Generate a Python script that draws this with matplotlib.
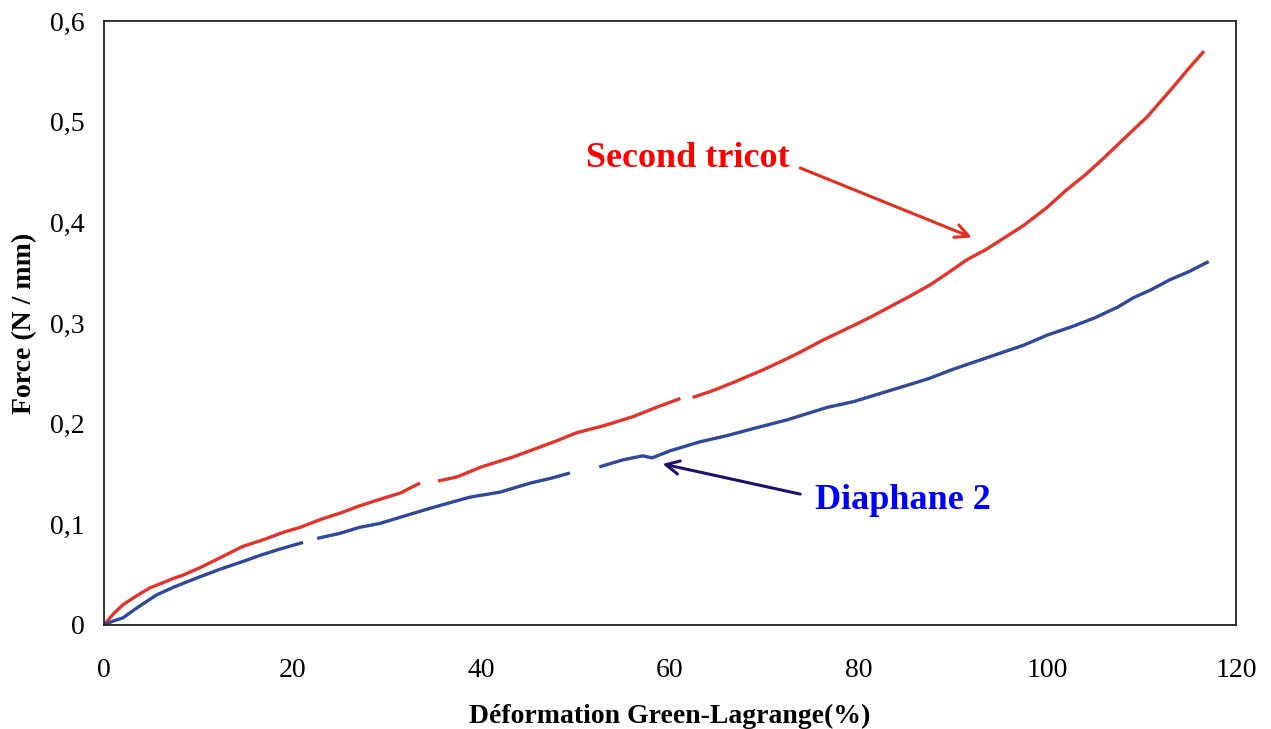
import numpy as np
import matplotlib
matplotlib.use("Agg")
import matplotlib.pyplot as plt
from matplotlib.ticker import FuncFormatter

# Data (NaN marks the small gaps in the curves)
red_x = [0, 1.0, 2.0, 3.3, 4.9, 6.0, 7.3, 8.5, 10.2, 11.5, 13.0, 14.7, 17.0, 19.0, 20.8,
         23.0, 25.0, 27.0, 29.3, 31.4, 33.5, 34.3, 35.4, 37.4, 40.0, 43.4, 46.0, 48.0, 50.1,
         53.0, 56.1, 58.5, 61.1, 61.4, 62.4, 64.6, 67.0, 70.0, 72.5, 73.8, 76.0, 78.0, 80.0,
         81.5, 83.3, 85.5, 87.6, 89.5, 91.5, 93.5, 95.0, 97.5, 100.0, 102.0, 104.0, 106.0,
         108.0, 110.6, 113.3, 115.0, 116.6]
red_y = [0, 0.011, 0.020, 0.028, 0.037, 0.041, 0.046, 0.050, 0.057, 0.063, 0.070, 0.078,
         0.085, 0.092, 0.097, 0.105, 0.111, 0.118, 0.125, 0.131, 0.141, np.nan, 0.143,
         0.147, 0.157, 0.167, 0.176, 0.183, 0.191, 0.198, 0.207, 0.216, 0.225, np.nan,
         0.226, 0.233, 0.242, 0.254, 0.265, 0.271, 0.282, 0.291, 0.300, 0.307, 0.316,
         0.327, 0.338, 0.350, 0.363, 0.373, 0.382, 0.397, 0.415, 0.432, 0.447, 0.464,
         0.482, 0.505, 0.534, 0.553, 0.570]

blue_x = [0, 1.0, 2.0, 3.5, 5.6, 7.5, 10.2, 12.5, 14.7, 16.5, 18.5, 21.1, 21.5, 22.6, 25.0,
          27.1, 29.3, 31.4, 34.6, 36.5, 38.8, 42.0, 45.2, 47.5, 49.4, 50.5, 52.5, 55.0,
          57.1, 58.1, 60.0, 63.2, 66.0, 69.2, 72.5, 76.6, 79.5, 82.3, 85.8, 87.5, 90.0,
          92.5, 95.0, 97.5, 100.0, 102.5, 105.0, 107.5, 109.1, 111.0, 113.0, 115.0, 117.1]
blue_y = [0, 0.004, 0.007, 0.017, 0.030, 0.038, 0.048, 0.056, 0.063, 0.069, 0.075, 0.082,
          np.nan, 0.086, 0.091, 0.097, 0.101, 0.107, 0.116, 0.121, 0.127, 0.132, 0.141,
          0.146, 0.151, np.nan, 0.157, 0.164, 0.168, 0.166, 0.173, 0.182, 0.188, 0.196,
          0.204, 0.216, 0.222, 0.230, 0.240, 0.245, 0.254, 0.262, 0.270, 0.278, 0.288,
          0.296, 0.305, 0.316, 0.325, 0.333, 0.343, 0.351, 0.361]

x_ticks = [0, 20, 40, 60, 80, 100, 120]
y_ticks = [0, 0.1, 0.2, 0.3, 0.4, 0.5, 0.6]

serif = ["Liberation Serif", "DejaVu Serif"]
plt.rcParams["font.family"] = serif

fig = plt.figure(figsize=(12.71, 7.29), dpi=100)
ax = fig.add_axes([0.0818, 0.1427, 0.8907, 0.8285])

ax.plot(red_x, red_y, color="#E3342B", lw=2.4, solid_capstyle="butt")
ax.plot(blue_x, blue_y, color="#2F4A9B", lw=2.4, solid_capstyle="butt")

ax.set_xlim(0, 120)
ax.set_ylim(0, 0.6)
ax.set_xticks(x_ticks)
ax.set_yticks(y_ticks)
ax.xaxis.set_major_formatter(FuncFormatter(lambda v, p: f"{v:g}".replace(".", ",")))
ax.yaxis.set_major_formatter(FuncFormatter(lambda v, p: f"{v:g}".replace(".", ",")))
ax.tick_params(axis="both", length=0, labelsize=20)
ax.tick_params(axis="x", pad=24)
ax.tick_params(axis="y", pad=14)
for s in ax.spines.values():
    s.set_linewidth(1.3)
    s.set_color("#222222")

ax.set_xlabel("Déformation Green-Lagrange(%)", fontsize=20, fontweight="bold", labelpad=15)
ax.set_ylabel("Force (N / mm)", fontsize=20, fontweight="bold", labelpad=9)

ax.annotate("", xy=(92.0, 0.385), xytext=(73.8, 0.454),
            arrowprops=dict(arrowstyle="->", color="#E0301E", lw=2.2,
                            mutation_scale=24, shrinkA=0, shrinkB=0))
ax.text(61.9, 0.463, "Second tricot", color="#FF0000", fontsize=26, fontweight="bold",
        ha="center", va="center")

ax.annotate("", xy=(59.2, 0.160), xytext=(73.8, 0.130),
            arrowprops=dict(arrowstyle="->", color="#22106E", lw=2.2,
                            mutation_scale=24, shrinkA=0, shrinkB=0))
ax.text(84.7, 0.124, "Diaphane 2", color="#0000FF", fontsize=26, fontweight="bold",
        ha="center", va="center")

fig.savefig("out.png", dpi=100)
